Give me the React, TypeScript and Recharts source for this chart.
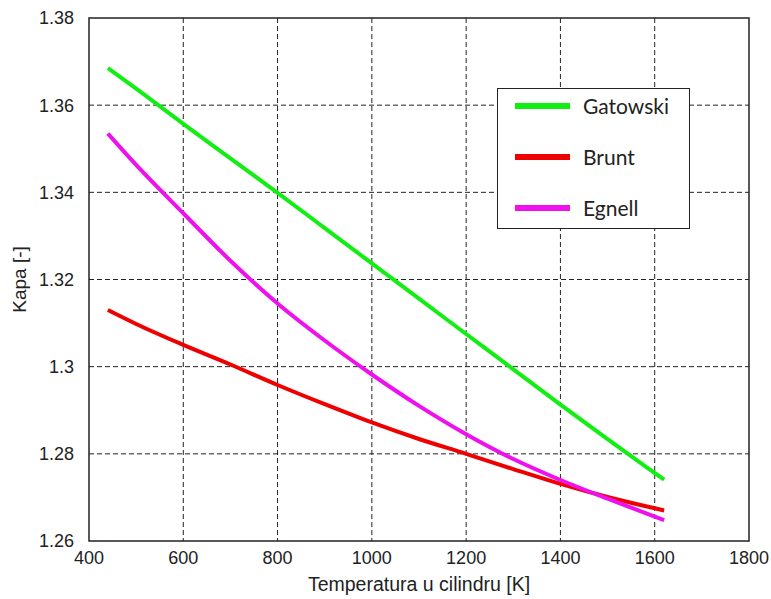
import React from "react";
import {
  LineChart,
  Line,
  XAxis,
  YAxis,
  CartesianGrid,
  Legend,
  ReferenceArea,
} from "recharts";

// Temperatura u cilindru [K]
const temperature = [440, 500, 600, 700, 800, 900, 1000, 1100, 1200, 1300, 1400, 1500, 1600, 1620];

// Kapa [-] po modelu
const gatowski = [1.3685, 1.3638, 1.3557, 1.3478, 1.3399, 1.3318, 1.3237, 1.3156, 1.3075, 1.2994, 1.2913, 1.2834, 1.2756, 1.2741];
const brunt = [1.313, 1.3098, 1.305, 1.3005, 1.2958, 1.2914, 1.2872, 1.2834, 1.28, 1.2765, 1.2731, 1.2701, 1.2675, 1.267];
const egnell = [1.3535, 1.3463, 1.3352, 1.3243, 1.3145, 1.306, 1.2982, 1.291, 1.2845, 1.2788, 1.274, 1.2697, 1.2656, 1.2648];

const xTicks = [400, 600, 800, 1000, 1200, 1400, 1600, 1800];
const yTicks = [1.26, 1.28, 1.3, 1.32, 1.34, 1.36, 1.38];

const series = [
  { key: "gatowski", name: "Gatowski", color: "#11ee11" },
  { key: "brunt", name: "Brunt", color: "#ee0000" },
  { key: "egnell", name: "Egnell", color: "#ee11ee" },
];

const data = temperature.map((t, i) => ({
  t,
  gatowski: gatowski[i],
  brunt: brunt[i],
  egnell: egnell[i],
}));

const axisFont = "Liberation Sans";

// Legenda u okviru, kao u Matlabu
const LegendBox = () => (
  <div
    style={{
      width: 193,
      height: 141,
      border: "1px solid #222",
      background: "#fff",
      boxSizing: "border-box",
      fontFamily: "Lato, 'Open Sans', sans-serif",
      fontSize: 21,
      color: "#222",
      position: "relative",
    }}
  >
    {series.map((s, i) => (
      <div
        key={s.key}
        style={{
          position: "absolute",
          left: 17,
          top: 4 + i * 51,
          display: "flex",
          alignItems: "center",
          height: 26,
          lineHeight: "26px",
        }}
      >
        <span
          style={{
            display: "inline-block",
            width: 55,
            height: 6,
            background: s.color,
            marginRight: 13,
          }}
        />
        <span>{s.name}</span>
      </div>
    ))}
  </div>
);

const App = () => {
  return (
    <div style={{ position: "absolute", left: 0, top: 0, background: "#fff", fontFamily: axisFont }}>
      <LineChart
        width={771}
        height={599}
        data={data}
        margin={{ top: 18, right: 22, left: 0, bottom: 0 }}
        style={{ fontFamily: axisFont }}
      >
        <CartesianGrid
          stroke="#222"
          strokeDasharray="5 3"
          verticalValues={xTicks.slice(1, -1)}
          horizontalValues={yTicks.slice(1, -1)}
        />
        <XAxis
          dataKey="t"
          type="number"
          domain={[400, 1800]}
          ticks={xTicks}
          height={58}
          tickLine={false}
          tickSize={0}
          tickMargin={10}
          axisLine={false}
          tick={{ fill: "#222", fontSize: 18, fontFamily: axisFont }}
          label={{
            value: "Temperatura u cilindru [K]",
            position: "insideBottom",
            offset: 8,
            style: { fill: "#222", fontSize: 19.5, fontFamily: axisFont },
          }}
        />
        <YAxis
          type="number"
          domain={[1.26, 1.38]}
          ticks={yTicks}
          width={89}
          tickLine={false}
          tickSize={0}
          tickMargin={15}
          axisLine={false}
          tickFormatter={(v: number) => String(Number(v.toFixed(2)))}
          tick={{ fill: "#222", fontSize: 18, fontFamily: axisFont }}
          label={{
            value: "Kapa [-]",
            angle: -90,
            position: "insideLeft",
            offset: 19,
            style: { textAnchor: "middle", fill: "#222", fontSize: 19, fontFamily: axisFont },
          }}
        />
        <ReferenceArea
          x1={400}
          x2={1800}
          y1={1.26}
          y2={1.38}
          fill="none"
          stroke="#222"
          strokeWidth={1.5}
          fillOpacity={0}
        />
        {series.map((s) => (
          <Line
            key={s.key}
            type="monotone"
            dataKey={s.key}
            name={s.name}
            stroke={s.color}
            strokeWidth={4}
            dot={false}
            isAnimationActive={false}
          />
        ))}
        <Legend
          layout="horizontal"
          verticalAlign="middle"
          align="center"
          content={() => <LegendBox />}
          wrapperStyle={{ position: "absolute", left: 497, top: 88, width: 193, height: 141 }}
        />
      </LineChart>
    </div>
  );
};

export default App;
